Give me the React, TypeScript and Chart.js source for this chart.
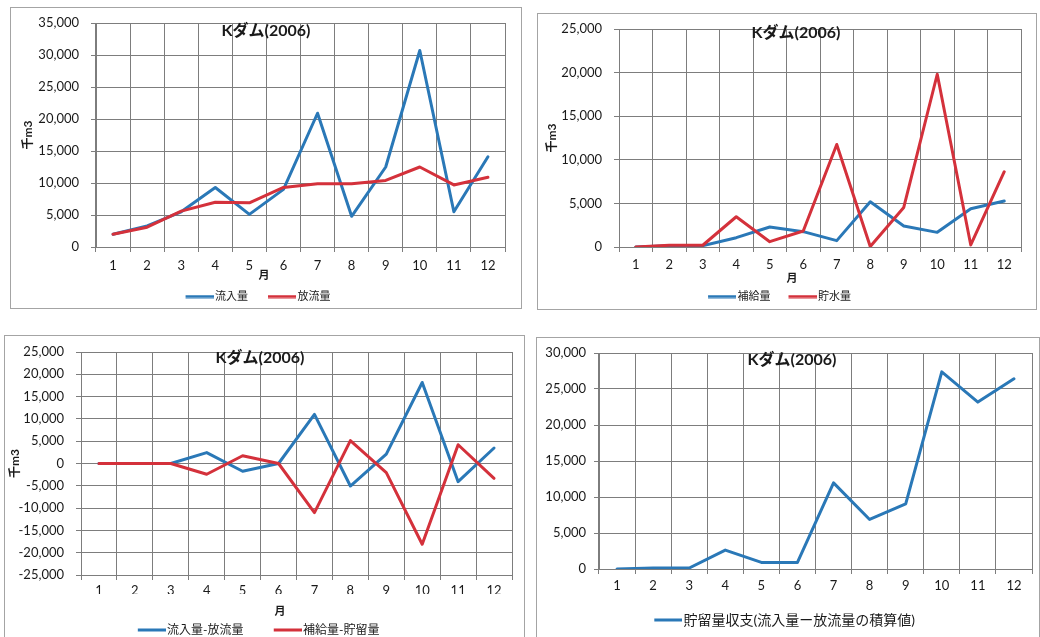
import React, { useEffect, useRef } from 'react';
import { Chart, registerables } from 'chart.js';

Chart.register(...registerables);

// ---- data ----
const months = ['1', '2', '3', '4', '5', '6', '7', '8', '9', '10', '11', '12'];
const chartTitle = 'Kダム(2006)';

const inflow = [2000, 3300, 5500, 9300, 5100, 9000, 20900, 4800, 12500, 30700, 5500, 14100];
const outflow = [2000, 3100, 5600, 7000, 6900, 9300, 9900, 9900, 10400, 12500, 9700, 10900];

const supply = [0, 150, 150, 1070, 2290, 1760, 730, 5190, 2400, 1680, 4390, 5270];
const storage = [0, 200, 200, 3470, 610, 1830, 11760, 50, 4540, 19810, 230, 8630];

const inMinusOut = [0, 0, 0, 2450, -1730, 0, 11000, -5050, 2100, 18170, -4070, 3470];
const supplyMinusStorage = [0, 0, 0, -2410, 1730, 0, -11010, 5130, -2040, -18100, 4200, -3320];

const cumulativeBalance = [0, 140, 140, 2630, 920, 920, 11960, 6880, 9050, 27380, 23180, 26410];

const yRange1 = [0, 35000, 5000];
const yRange2 = [0, 25000, 5000];
const yRange3 = [-25000, 25000, 5000];
const yRange4 = [0, 30000, 5000];

const BLUE = '#2a78b7';
const RED = '#d4313b';
const GRID = '#7d7d7d';
const TEXT = '#1a1a1a';
const FONT = "Lato, 'Noto Sans CJK JP', sans-serif";
const LEGEND_LINE = 28;

type DS = { label: string; data: number[]; color: string };

type Spec = {
  box: { left: number; top: number; width: number; height: number };
  extraW: number;
  plotL: number;
  plotT: number;
  plotB: number;
  rightPad: number;
  legendY: number;
  legendFont: number;
  legendPad: number;
  xTickPad: number;
  yTickPad: number;
  yTitle?: string;
  yTitlePad?: number;
  yRange: number[];
  datasets: DS[];
  titleXY: [number, number];
  xTitle?: string;
  xTitleXY?: [number, number];
};

const textPlugin = {
  id: 'panelText',
  afterDraw(chart: any, _args: any, opts: any) {
    const ctx = chart.ctx;
    ctx.save();
    ctx.fillStyle = TEXT;
    ctx.textAlign = 'center';
    ctx.textBaseline = 'middle';
    ctx.font = `bold 16px ${FONT}`;
    ctx.fillText(opts.title, opts.titleXY[0], opts.titleXY[1]);
    if (opts.xTitle) {
      ctx.font = `bold 11px ${FONT}`;
      ctx.fillText(opts.xTitle, opts.xTitleXY[0], opts.xTitleXY[1]);
    }
    ctx.restore();
  },
};

function legendLineImage(color: string, w: number) {
  const c = document.createElement('canvas');
  c.width = w;
  c.height = 4;
  const g = c.getContext('2d')!;
  g.fillStyle = color;
  g.fillRect(w - LEGEND_LINE, 0.5, LEGEND_LINE, 3);
  return c;
}

function Panel({ spec }: { spec: Spec }) {
  const ref = useRef<HTMLCanvasElement | null>(null);
  const cw = spec.box.width - 2 + spec.extraW;
  const fs = spec.legendFont;
  const canvasH = Math.round(spec.legendY + 10 + fs / 2);
  const legendTop = canvasH - (fs + spec.legendPad + 10);
  const xAxisH = legendTop - spec.plotB;
  const boxW = LEGEND_LINE + 1.5 - fs / 2;
  const imgW = Math.round(boxW + fs - 3);
  useEffect(() => {
    if (!ref.current) return;
    const chart = new Chart(ref.current, {
      type: 'line',
      data: {
        labels: months,
        datasets: spec.datasets.map((d, i) => ({
          label: d.label,
          data: d.data,
          borderColor: d.color,
          backgroundColor: d.color,
          borderWidth: 3,
          pointRadius: 0,
          pointStyle: legendLineImage(d.color, imgW),
          tension: 0,
          fill: false,
          borderJoinStyle: 'round' as const,
          borderCapStyle: 'round' as const,
          order: spec.datasets.length - i,
        })),
      },
      options: {
        animation: false,
        responsive: false,
        events: [],
        layout: { padding: { left: 0, top: spec.plotT, right: spec.rightPad + spec.extraW, bottom: 0 } },
        plugins: {
          tooltip: { enabled: false },
          title: { display: false },
          legend: {
            display: true,
            position: 'bottom',
            labels: {
              usePointStyle: true,
              pointStyleWidth: boxW,
              padding: spec.legendPad,
              color: TEXT,
              font: { family: FONT, size: fs },
              sort: (a: any, b: any) => a.datasetIndex - b.datasetIndex,
            },
          },
          panelText: {
            title: chartTitle,
            titleXY: spec.titleXY,
            xTitle: spec.xTitle,
            xTitleXY: spec.xTitleXY,
          },
        } as any,
        scales: {
          x: {
            type: 'category',
            offset: true,
            grid: { offset: true, color: GRID, tickLength: 5, drawTicks: true, lineWidth: 1 },
            border: { color: GRID },
            ticks: {
              color: TEXT,
              font: { family: FONT, size: 13 },
              padding: spec.xTickPad,
              maxRotation: 0,
              autoSkip: false,
            },
            afterFit: (s: any) => {
              s.height = xAxisH;
            },
          },
          y: {
            min: spec.yRange[0],
            max: spec.yRange[1],
            grid: { color: GRID, tickLength: 5, drawTicks: true, lineWidth: 1 },
            border: { color: GRID },
            ticks: {
              stepSize: spec.yRange[2],
              color: TEXT,
              font: { family: FONT, size: 13 },
              padding: spec.yTickPad,
              callback: (v: any) => Number(v).toLocaleString('en-US'),
            },
            title: spec.yTitle
              ? {
                  display: true,
                  text: spec.yTitle,
                  color: TEXT,
                  font: { family: FONT, size: 12, weight: 'bold' },
                  padding: { top: spec.yTitlePad ?? 4, bottom: 0 },
                }
              : { display: false },
            afterFit: (s: any) => {
              s.width = spec.plotL;
              s.paddingTop = 0;
              s.paddingBottom = 0;
            },
          },
        },
      } as any,
      plugins: [textPlugin as any],
    });
    return () => chart.destroy();
  }, []);
  return (
    <div
      style={{
        position: 'absolute',
        left: spec.box.left,
        top: spec.box.top,
        width: spec.box.width,
        height: spec.box.height,
        border: '1px solid #a4a4a4',
        boxSizing: 'border-box',
        overflow: 'hidden',
        background: '#fff',
      }}
    >
      <canvas ref={ref} width={cw} height={canvasH} style={{ display: 'block', width: cw, height: canvasH }} />
    </div>
  );
}

const specs: Spec[] = [
  {
    box: { left: 10, top: 7, width: 512, height: 302 },
    extraW: 4,
    plotL: 85,
    plotT: 15,
    plotB: 239,
    rightPad: 16,
    legendY: 288,
    legendFont: 11,
    legendPad: 20,
    xTickPad: 6,
    yTickPad: 12,
    yTitle: '千m3',
    yTitlePad: 10,
    yRange: yRange1,
    datasets: [
      { label: '流入量', data: inflow, color: BLUE },
      { label: '放流量', data: outflow, color: RED },
    ],
    titleXY: [255, 22.5],
    xTitle: '月',
    xTitleXY: [253, 267],
  },
  {
    box: { left: 537, top: 13, width: 500, height: 297 },
    extraW: 18,
    plotL: 81,
    plotT: 15,
    plotB: 233,
    rightPad: 15,
    legendY: 282,
    legendFont: 11,
    legendPad: 18,
    xTickPad: 5,
    yTickPad: 12,
    yTitle: '千m3',
    yTitlePad: 7,
    yRange: yRange2,
    datasets: [
      { label: '補給量', data: supply, color: BLUE },
      { label: '貯水量', data: storage, color: RED },
    ],
    titleXY: [258, 19],
    xTitle: '月',
    xTitleXY: [254, 264],
  },
  {
    box: { left: 4, top: 335, width: 521, height: 320 },
    extraW: 10,
    plotL: 76,
    plotT: 16,
    plotB: 239,
    rightPad: 12,
    legendY: 294,
    legendFont: 12,
    legendPad: 30,
    xTickPad: 3,
    yTickPad: 12,
    yTitle: '千m3',
    yTitlePad: 3,
    yRange: yRange3,
    datasets: [
      { label: '流入量-放流量', data: inMinusOut, color: BLUE },
      { label: '補給量-貯留量', data: supplyMinusStorage, color: RED },
    ],
    titleXY: [255, 22],
    xTitle: '月',
    xTitleXY: [275, 275],
  },
  {
    box: { left: 536, top: 337, width: 504, height: 310 },
    extraW: 11,
    plotL: 62,
    plotT: 15,
    plotB: 231,
    rightPad: 7,
    legendY: 282,
    legendFont: 14,
    legendPad: 20,
    xTickPad: 4,
    yTickPad: 8,
    yRange: yRange4,
    datasets: [{ label: '貯留量収支(流入量ー放流量の積算値)', data: cumulativeBalance, color: BLUE }],
    titleXY: [255, 22],
  },
];

export default function App() {
  return (
    <div
      style={{
        position: 'fixed',
        left: 0,
        top: 0,
        width: 1040,
        height: 637,
        overflow: 'hidden',
        background: '#fff',
      }}
    >
      {specs.map((s, i) => (
        <Panel key={i} spec={s} />
      ))}
    </div>
  );
}
